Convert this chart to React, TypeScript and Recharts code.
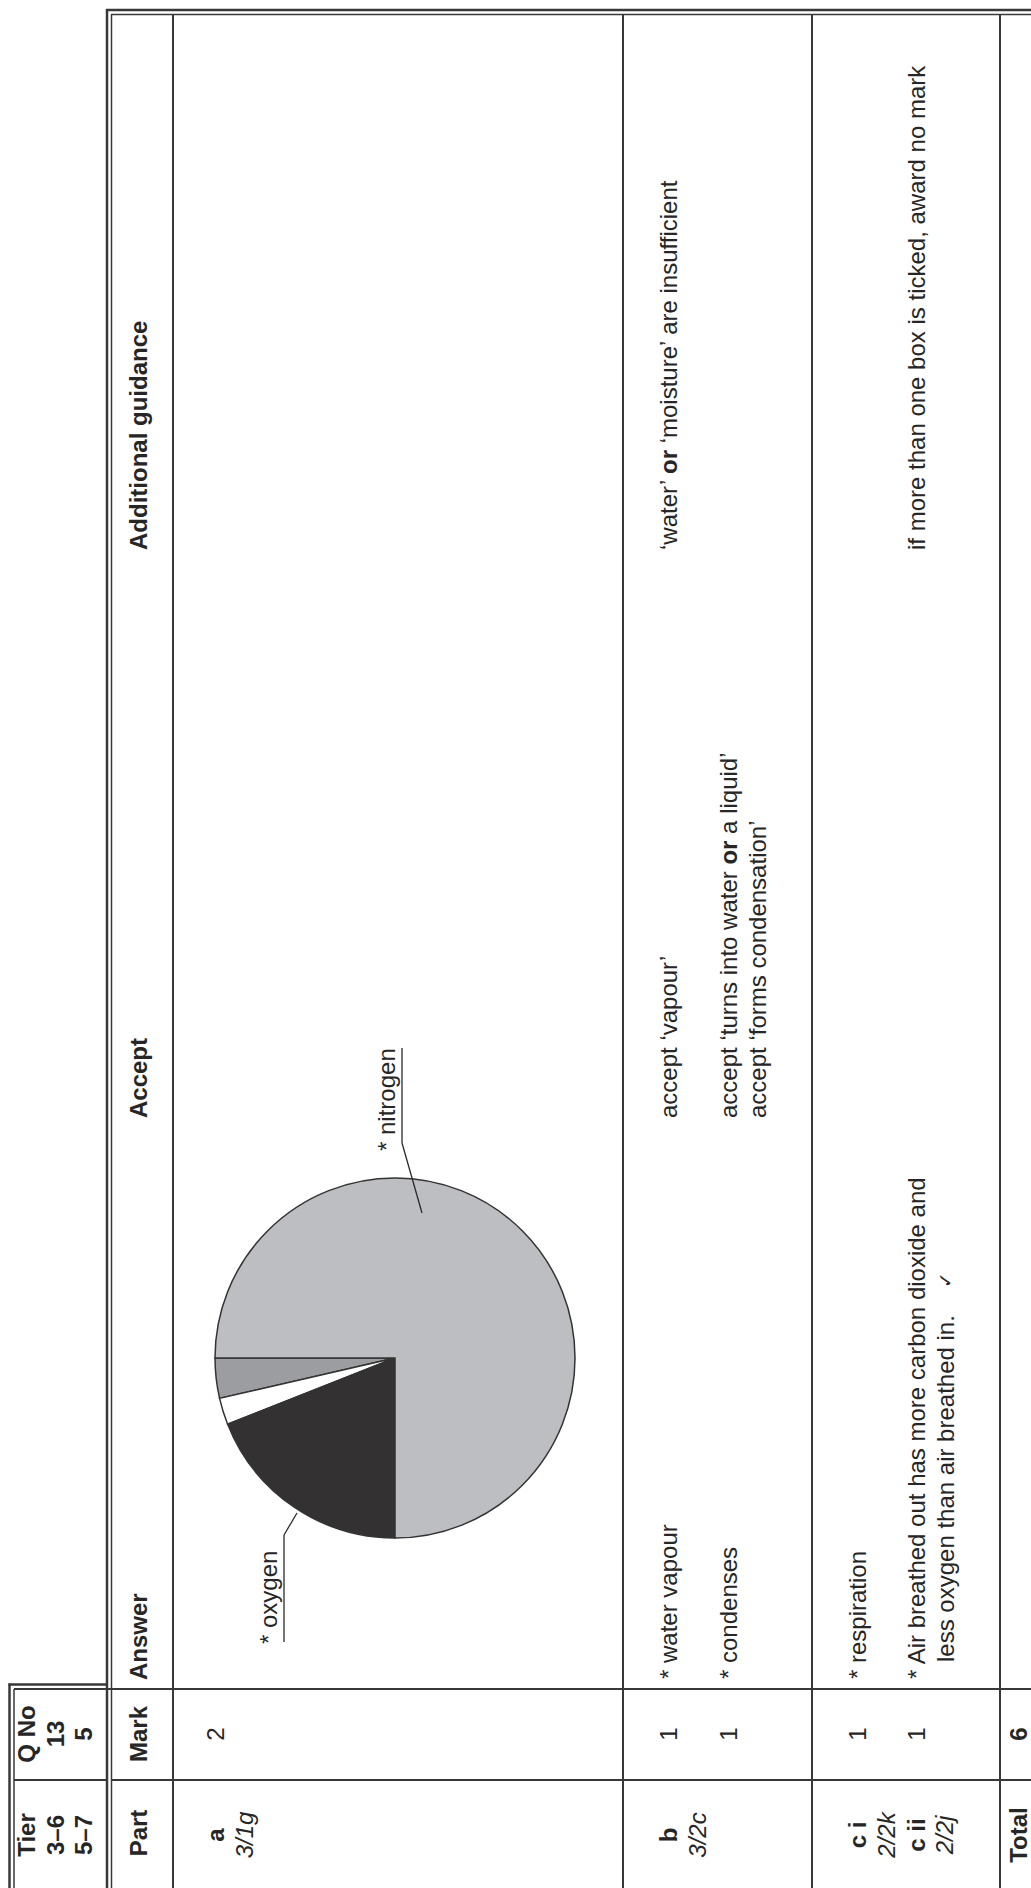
import { PieChart, Pie, Cell } from "recharts"

// composition of air shown in the pie (per cent)
const gasNames = ["other gases", "water vapour", "oxygen", "nitrogen"]
const gasShares = [3.6, 2.4, 19, 75]
const gasFills = ["#9c9da1", "#ffffff", "#343132", "#bdbec2"]

const tierLines = ["Tier", "3–6", "5–7"]
const qNoLines = ["Q No", "13", "5"]
const columnHeads = ["Part", "Mark", "Answer", "Accept", "Additional guidance"]
const partLabels = ["a", "b", "c i", "c ii"]
const partCodes = ["3/1g", "3/2c", "2/2k", "2/2j"]
const markValues = ["2", "1", "1", "1", "1"]
const markTotal = "6"
const answerLines = ["* water vapour", "* condenses", "* respiration"]
const answerLong = ["* Air breathed out has more carbon dioxide and", "less oxygen than air breathed in."]

const W = 1888
const H = 1031
const FONT = '"Liberation Sans", Arial, Helvetica, sans-serif'
const INK = "#262626"
const RULE = "#383838"

function T({ x, y, children, anchor = "start", bold = false, italic = false, size = 24 }: {
  x: number; y: number; children: React.ReactNode; anchor?: "start" | "middle" | "end"
  bold?: boolean; italic?: boolean; size?: number
}) {
  return (
    <text
      x={x}
      y={y}
      textAnchor={anchor}
      fontFamily={FONT}
      fontSize={size}
      fontWeight={bold ? 700 : 400}
      fontStyle={italic ? "italic" : "normal"}
      fill={INK}
    >
      {children}
    </text>
  )
}

function L({ x1, y1, x2, y2, w = 2 }: { x1: number; y1: number; x2: number; y2: number; w?: number }) {
  return <line x1={x1} y1={y1} x2={x2} y2={y2} stroke={RULE} strokeWidth={w} />
}

/* leader lines + underlined names for nitrogen and oxygen */
function GasLabel(props: { cx?: number; cy?: number; index?: number }) {
  const cx = props.cx ?? 0
  const cy = props.cy ?? 0
  const name = gasNames[props.index ?? 0]
  if (name === "nitrogen") {
    return (
      <g>
        <line x1={cx + 145} y1={cy + 27} x2={cx + 215} y2={cy + 7} stroke="#2a2a2a" strokeWidth={1.3} />
        <line x1={cx + 215} y1={cy + 7} x2={cx + 310} y2={cy + 7} stroke="#2a2a2a" strokeWidth={1.3} />
        <T x={cx + 207} y={cy}>* nitrogen</T>
      </g>
    )
  }
  if (name === "oxygen") {
    return (
      <g>
        <line x1={cx - 155} y1={cy - 98} x2={cx - 177} y2={cy - 111} stroke="#2a2a2a" strokeWidth={1.3} />
        <line x1={cx - 284} y1={cy - 111} x2={cx - 177} y2={cy - 111} stroke="#2a2a2a" strokeWidth={1.3} />
        <T x={cx - 286} y={cy - 118}>* oxygen</T>
      </g>
    )
  }
  return null
}

function MarkScheme() {
  const data = gasNames.map((n, i) => ({ name: n, value: gasShares[i] }))
  const rowLines = [173, 623, 812, 1000]

  return (
    <div style={{ position: "relative", width: W, height: H, background: "#fff" }}>
      <svg width={W} height={H} style={{ position: "absolute", left: 0, top: 0 }}>
        {/* tier / question box */}
        <L x1={0} y1={9.5} x2={204.5} y2={9.5} w={2.5} />
        <L x1={0} y1={14} x2={199} y2={14} w={1.5} />
        <L x1={203.5} y1={8.5} x2={203.5} y2={108} w={2.5} />
        <L x1={108} y1={14} x2={108} y2={107} />

        {/* main table frame */}
        <L x1={0} y1={107} x2={1879} y2={107} w={2.5} />
        <L x1={0} y1={111.5} x2={1873.5} y2={111.5} w={1.5} />
        <L x1={1878} y1={106} x2={1878} y2={H} w={2.5} />
        <L x1={1873.5} y1={111} x2={1873.5} y2={H} w={1.5} />
        <L x1={108} y1={111} x2={108} y2={H} />
        <L x1={199} y1={14} x2={199} y2={H} />
        {rowLines.map((v) => (
          <L key={v} x1={0} y1={v} x2={1873.5} y2={v} />
        ))}

        {/* box texts */}
        {tierLines.map((t, i) => (
          <T key={"t" + i} x={53} y={35 + i * 28.5} anchor="middle" bold>{t}</T>
        ))}
        {qNoLines.map((t, i) => (
          <T key={"q" + i} x={154} y={35 + i * 28.5} anchor="middle" bold>{t}</T>
        ))}

        {/* header row */}
        <T x={55} y={147} anchor="middle" bold>{columnHeads[0]}</T>
        <T x={154} y={147} anchor="middle" bold>{columnHeads[1]}</T>
        <T x={208} y={147} bold>{columnHeads[2]}</T>
        <T x={770} y={147} bold>{columnHeads[3]}</T>
        <T x={1338} y={147} bold>{columnHeads[4]}</T>

        {/* part column */}
        <T x={53} y={224} anchor="middle" bold>{partLabels[0]}</T>
        <T x={53} y={253} anchor="middle" italic>{partCodes[0]}</T>
        <T x={53} y={677} anchor="middle" bold>{partLabels[1]}</T>
        <T x={53} y={706} anchor="middle" italic>{partCodes[1]}</T>
        <T x={53} y={866} anchor="middle" bold>{partLabels[2]}</T>
        <T x={53} y={895} anchor="middle" italic>{partCodes[2]}</T>
        <T x={53} y={925} anchor="middle" bold>{partLabels[3]}</T>
        <T x={53} y={953} anchor="middle" italic>{partCodes[3]}</T>
        <T x={53} y={1027} anchor="middle" bold>Total</T>

        {/* mark column */}
        {[224, 677, 737, 866, 925].map((y, i) => (
          <T key={"m" + i} x={154} y={y} anchor="middle">{markValues[i]}</T>
        ))}
        <T x={154} y={1027} anchor="middle" bold>{markTotal}</T>

        {/* answers */}
        <T x={209} y={677}>{answerLines[0]}</T>
        <T x={209} y={737}>{answerLines[1]}</T>
        <T x={209} y={866}>{answerLines[2]}</T>
        <T x={209} y={925}>{answerLong[0]}</T>
        <T x={226} y={954}>{answerLong[1]}</T>
        <text x={600} y={952} fontFamily='"DejaVu Sans", sans-serif' fontSize={19} fill={INK}>✓</text>

        {/* accept */}
        <T x={770} y={677}>accept ‘vapour’</T>
        <T x={770} y={737}>
          accept ‘turns into water <tspan fontWeight={700}>or</tspan> a liquid’
        </T>
        <T x={770} y={766}>accept ‘forms condensation’</T>

        {/* additional guidance */}
        <T x={1338} y={677}>
          ‘water’ <tspan fontWeight={700}>or</tspan> ‘moisture’ are insufficient
        </T>
        <T x={1338} y={925}>if more than one box is ticked, award no mark</T>
      </svg>

      <div style={{ position: "absolute", left: 200, top: 180 }}>
        <PieChart width={700} height={420}>
          <Pie
            data={data}
            dataKey="value"
            nameKey="name"
            cx={325}
            cy={210}
            outerRadius={180}
            startAngle={90}
            endAngle={450}
            label={<GasLabel />}
            labelLine={false}
            isAnimationActive={false}
          >
            {data.map((d, i) => (
              <Cell key={d.name} fill={gasFills[i]} stroke="#333" strokeWidth={1.5} />
            ))}
          </Pie>
        </PieChart>
      </div>
    </div>
  )
}

export default function App() {
  return (
    <div style={{ position: "absolute", left: 0, top: 0, width: H, height: W, overflow: "hidden", background: "#fff" }}>
      <div
        style={{
          position: "absolute",
          left: 0,
          top: 0,
          width: W,
          height: H,
          transformOrigin: "0 0",
          transform: `translateY(${W}px) rotate(-90deg)`,
        }}
      >
        <MarkScheme />
      </div>
    </div>
  )
}
